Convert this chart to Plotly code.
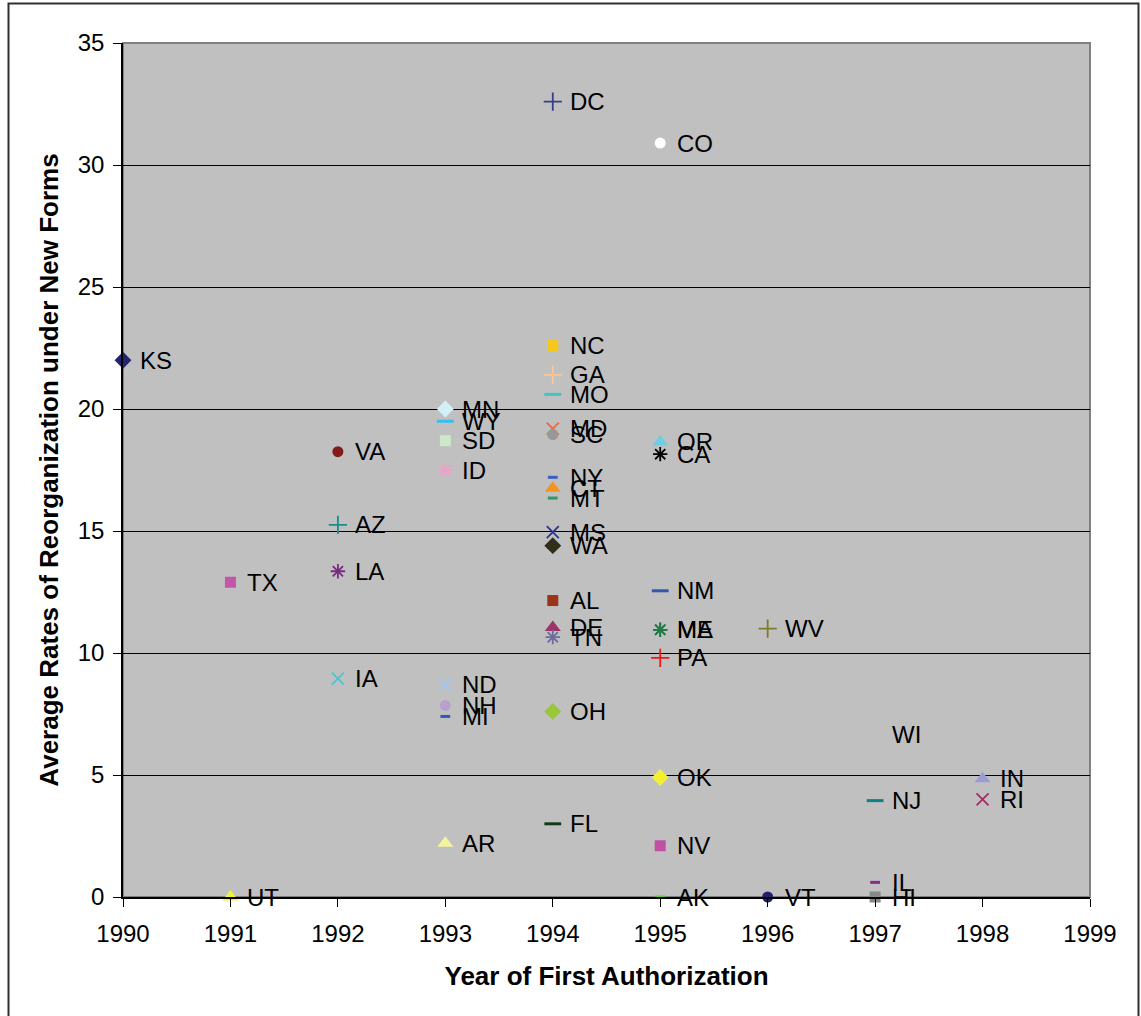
import plotly.graph_objects as go

# Year each state first authorized the new organizational forms
states = ["KS", "TX", "UT", "VA", "AZ", "LA", "IA",
          "MN", "WY", "SD", "ID", "ND", "NH", "MI", "AR",
          "DC", "NC", "GA", "MO", "MD", "SC", "NY", "CT", "MT", "MS", "WA",
          "AL", "DE", "TN", "OH", "FL",
          "CO", "OR", "CA", "NM", "ME", "MA", "PA", "OK", "NV", "AK",
          "WV", "VT", "WI", "NJ", "IL", "HI", "IN", "RI"]
years = [1990, 1991, 1991, 1992, 1992, 1992, 1992,
         1993, 1993, 1993, 1993, 1993, 1993, 1993, 1993,
         1994, 1994, 1994, 1994, 1994, 1994, 1994, 1994, 1994, 1994, 1994,
         1994, 1994, 1994, 1994, 1994,
         1995, 1995, 1995, 1995, 1995, 1995, 1995, 1995, 1995, 1995,
         1996, 1996, 1997, 1997, 1997, 1997, 1998, 1998]
# Average rate of reorganization under the new forms
rates = [22.0, 12.9, 0.0, 18.25, 15.25, 13.35, 8.95,
         20.0, 19.5, 18.7, 17.5, 8.7, 7.85, 7.4, 2.2,
         32.6, 22.6, 21.4, 20.6, 19.2, 18.95, 17.2, 16.75, 16.35, 14.95, 14.4,
         12.15, 11.05, 10.65, 7.6, 3.0,
         30.9, 18.65, 18.15, 12.55, 10.95, 10.95, 9.8, 4.9, 2.1, 0.0,
         11.0, 0.0, 6.65, 3.95, 0.6, 0.0, 4.85, 4.0]

x_ticks = [1990, 1991, 1992, 1993, 1994, 1995, 1996, 1997, 1998, 1999]
y_ticks = [0, 5, 10, 15, 20, 25, 30, 35]

# Marker style per state: (symbol, colour)
marker_style = {
    "KS": ("diamond", "#24246e"), "TX": ("square", "#c455a8"),
    "UT": ("triangle-up", "#f2f23a"), "VA": ("circle", "#851a1a"),
    "AZ": ("cross-thin", "#1c8c8c"), "LA": ("asterisk", "#7a2a82"),
    "IA": ("x-thin", "#4cc4cc"), "MN": ("diamond", "#d2f0f5"),
    "WY": ("dash", "#33c0f0"), "SD": ("square", "#cce8c8"),
    "ID": ("asterisk", "#f0a0c8"), "ND": ("x-thin", "#a0c8f0"),
    "NH": ("circle", "#b8a0d0"), "MI": ("dash-s", "#3858b8"),
    "AR": ("triangle-up", "#f4f4a0"), "DC": ("cross-thin", "#34408a"),
    "NC": ("square", "#f4c81c"), "GA": ("cross-thin", "#f8c898"),
    "MO": ("dash", "#40c4c4"), "MD": ("x-thin", "#f06830"),
    "SC": ("circle", "#989898"), "NY": ("dash-s", "#3c60c0"),
    "CT": ("triangle-up", "#f49420"), "MT": ("dash-s", "#2e9868"),
    "MS": ("x-thin", "#2c3490"), "WA": ("diamond", "#30301a"),
    "AL": ("square", "#9c3418"), "DE": ("triangle-up", "#9c3468"),
    "TN": ("asterisk", "#6c6ca0"), "OH": ("diamond", "#98c838"),
    "FL": ("dash", "#143a1c"), "CO": ("circle", "#ffffff"),
    "OR": ("triangle-up", "#70cce0"), "CA": ("asterisk", "#000000"),
    "NM": ("dash", "#3458b0"), "ME": ("asterisk", "#207a44"),
    "MA": ("asterisk", "#207a44"), "PA": ("cross-thin", "#f01818"),
    "OK": ("diamond", "#f4f030"), "NV": ("square", "#c050a4"),
    "AK": ("dash-s", "#60c848"), "WV": ("cross-thin", "#7c7c28"),
    "VT": ("circle", "#20206c"), "WI": ("none", "#c0c0c0"),
    "NJ": ("dash", "#108080"), "IL": ("dash-s", "#882c88"),
    "HI": ("square", "#888888"), "IN": ("triangle-up", "#9c9cd4"),
    "RI": ("x-thin", "#a03060"),
}

FONT = "Liberation Sans, Arial, sans-serif"
W, H = 1141, 1016
L, R, T, B = 123, 51, 43, 119

fig = go.Figure()

for st, yr, val in zip(states, years, rates):
    sym, col = marker_style[st]
    if sym == "none":
        continue
    marker = dict(color=col, line=dict(width=0, color=col))
    if sym == "diamond":
        marker.update(symbol="diamond", size=13)
    elif sym == "square":
        marker.update(symbol="square", size=11)
    elif sym == "triangle-up":
        marker.update(symbol="triangle-up", size=14)
    elif sym == "circle":
        marker.update(symbol="circle", size=11)
    elif sym == "x-thin":
        marker.update(symbol="x-thin", size=12, line=dict(width=1.8, color=col))
    elif sym == "cross-thin":
        marker.update(symbol="cross-thin", size=13, line=dict(width=1.8, color=col))
    elif sym == "asterisk":
        marker.update(symbol="asterisk", size=12, line=dict(width=1.8, color=col))
    elif sym == "dash":
        marker.update(symbol="line-ew", size=12, line=dict(width=3, color=col))
    elif sym == "dash-s":
        marker.update(symbol="line-ew", size=7, line=dict(width=3, color=col))
    fig.add_trace(go.Scatter(
        x=[yr], y=[val], mode="markers", marker=marker,
        name=st, showlegend=False, cliponaxis=False, hoverinfo="text",
        hovertext=f"{st}: {val}",
    ))

# State labels to the right of each point
for st, yr, val in zip(states, years, rates):
    fig.add_annotation(
        x=yr, y=val, text=st, showarrow=False, xanchor="left",
        yanchor="middle", xshift=15,
        font=dict(family=FONT, size=24, color="#000000"),
    )

# Gray frame on the top and right of the plotting area
fig.add_shape(type="rect", xref="paper", yref="paper", x0=0, x1=1, y0=0, y1=1,
              line=dict(color="#808080", width=2), layer="below")

# Thin border around the whole chart
pw, ph = W - L - R, H - T - B
fig.add_shape(type="rect", xref="paper", yref="paper",
              x0=(8.5 - L) / pw, x1=(1138.5 - L) / pw,
              y0=(H - 1030 - B) / ph, y1=(H - 3.5 - B) / ph,
              line=dict(color="#303030", width=2), layer="above")

fig.update_layout(
    width=W, height=H,
    margin=dict(l=L, r=R, t=T, b=B, pad=0),
    paper_bgcolor="#ffffff", plot_bgcolor="#c0c0c0",
    font=dict(family=FONT, size=24, color="#000000"),
    showlegend=False,
)

fig.update_xaxes(
    range=[1990, 1999], tickvals=x_ticks, ticktext=[str(v) for v in x_ticks],
    showgrid=False, zeroline=False,
    showline=True, linecolor="#000000", linewidth=1.5,
    ticks="outside", ticklen=8, tickcolor="#000000", tickwidth=1,
    ticklabelstandoff=6,
    tickfont=dict(family=FONT, size=24),
    title=dict(text="<b>Year of First Authorization</b>",
               font=dict(family=FONT, size=26), standoff=21),
)
fig.update_yaxes(
    range=[0, 35], tickvals=y_ticks, ticktext=[str(v) for v in y_ticks],
    showgrid=True, gridcolor="#000000", gridwidth=1, zeroline=False,
    showline=True, linecolor="#000000", linewidth=1.5,
    ticks="outside", ticklen=8, tickcolor="#000000", tickwidth=1,
    ticklabelstandoff=4,
    tickfont=dict(family=FONT, size=24),
    title=dict(text="<b>Average Rates of Reorganization under New Forms</b>",
               font=dict(family=FONT, size=26), standoff=12),
)

fig.write_html("out.html")
